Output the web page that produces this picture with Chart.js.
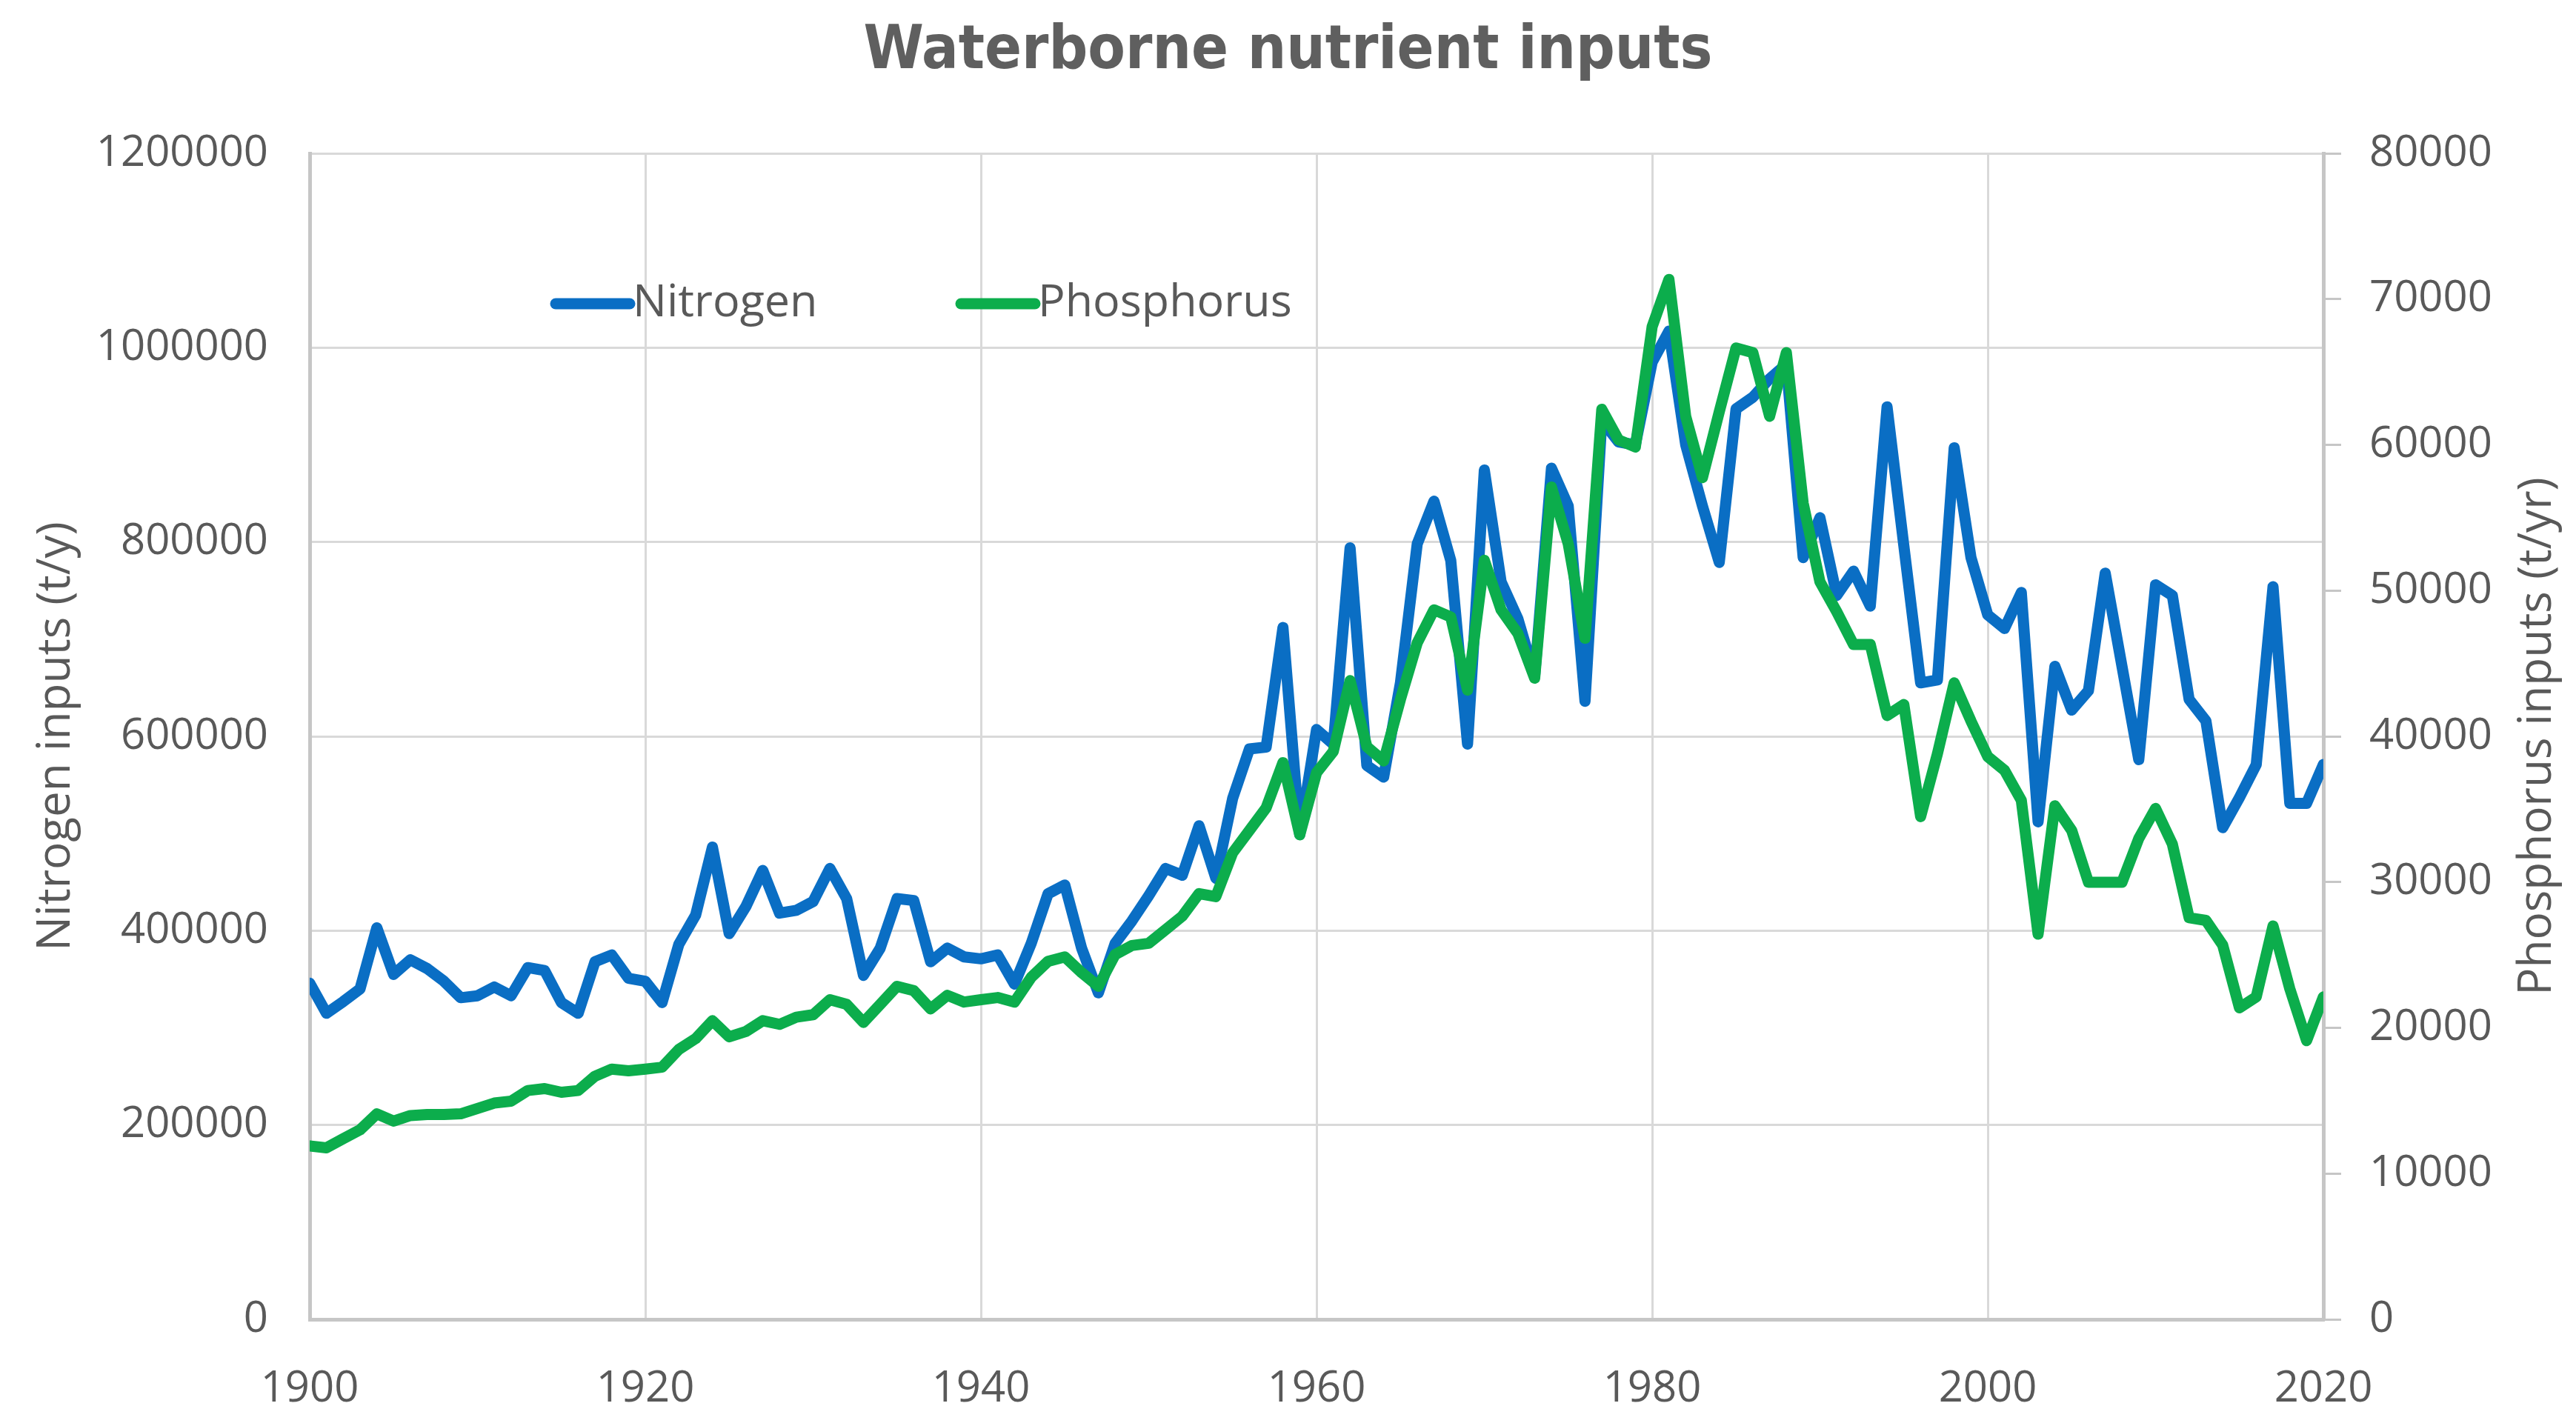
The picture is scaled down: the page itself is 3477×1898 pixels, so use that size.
<!DOCTYPE html>
<html>
<head>
<meta charset="utf-8">
<title>Waterborne nutrient inputs</title>
<script src="https://cdn.jsdelivr.net/npm/chart.js@4.4.1/dist/chart.umd.min.js"></script>
<style>
  html, body { margin: 0; padding: 0; background: #ffffff; }
  #wrap { width: 3477px; height: 1898px; position: relative; }
</style>
</head>
<body>
<div id="wrap"><canvas id="nutrientChart"></canvas></div>
<script>
// years on the x axis
const years = [
  1900, 1901, 1902, 1903, 1904, 1905, 1906, 1907, 1908, 1909,
  1910, 1911, 1912, 1913, 1914, 1915, 1916, 1917, 1918, 1919,
  1920, 1921, 1922, 1923, 1924, 1925, 1926, 1927, 1928, 1929,
  1930, 1931, 1932, 1933, 1934, 1935, 1936, 1937, 1938, 1939,
  1940, 1941, 1942, 1943, 1944, 1945, 1946, 1947, 1948, 1949,
  1950, 1951, 1952, 1953, 1954, 1955, 1956, 1957, 1958, 1959,
  1960, 1961, 1962, 1963, 1964, 1965, 1966, 1967, 1968, 1969,
  1970, 1971, 1972, 1973, 1974, 1975, 1976, 1977, 1978, 1979,
  1980, 1981, 1982, 1983, 1984, 1985, 1986, 1987, 1988, 1989,
  1990, 1991, 1992, 1993, 1994, 1995, 1996, 1997, 1998, 1999,
  2000, 2001, 2002, 2003, 2004, 2005, 2006, 2007, 2008, 2009,
  2010, 2011, 2012, 2013, 2014, 2015, 2016, 2017, 2018, 2019,
  2020
];

// nitrogen inputs, t/y (left axis)
const nitrogen = [
  346000, 315000, 327000, 340000, 403000, 355000, 370000, 361000, 348000, 331000,
  333000, 342000, 333000, 362000, 359000, 326000, 315000, 368000, 375000, 351000,
  348000, 326000, 386000, 416000, 486000, 397000, 425000, 462000, 418000, 421000,
  430000, 464000, 433000, 354000, 382000, 433000, 431000, 368000, 382000, 373000,
  371000, 375000, 345000, 387000, 438000, 447000, 382000, 336000, 387000, 410000,
  436000, 464000, 457000, 508000, 454000, 536000, 587000, 589000, 712000, 499000,
  607000, 592000, 794000, 570000, 558000, 655000, 798000, 842000, 781000, 592000,
  874000, 759000, 721000, 662000, 876000, 837000, 636000, 925000, 903000, 900000,
  985000, 1017000, 900000, 837000, 779000, 937000, 949000, 968000, 983000, 784000,
  825000, 745000, 770000, 734000, 939000, 796000, 655000, 658000, 897000, 784000,
  725000, 711000, 748000, 512000, 672000, 627000, 647000, 768000, 672000, 576000,
  756000, 745000, 638000, 616000, 506000, 537000, 571000, 754000, 531000, 531000,
  571000
];

// phosphorus inputs, t/yr (right axis)
const phosphorus = [
  11900, 11770, 12390, 13000, 14100, 13600, 13980, 14050, 14050, 14100,
  14470, 14840, 14970, 15700, 15830, 15580, 15700, 16680, 17170, 17050,
  17170, 17300, 18520, 19260, 20490, 19380, 19750, 20490, 20240, 20730,
  20900, 21930, 21610, 20370, 21610, 22850, 22550, 21300, 22230, 21770,
  21930, 22080, 21770, 23470, 24560, 24870, 23790, 22850, 25030, 25650,
  25800, 26730, 27660, 29210, 29000, 32000, 33550, 35100, 38200, 33240,
  37500, 38970, 43820, 39290, 38310, 42530, 46410, 48680, 48190, 43170,
  52080, 48680, 47060, 43990, 57100, 53210, 46730, 62440, 60340, 59850,
  68110, 71350, 61960, 57750, 62270, 66650, 66330, 61960, 66330, 56000,
  50600, 48550, 46300, 46300, 41430, 42180, 34490, 38800, 43670, 41050,
  38610, 37670, 35610, 26430, 35240, 33550, 29990, 29990, 29990, 32990,
  35050, 32610, 27550, 27370, 25680, 21370, 22120, 26990, 22680, 19120,
  22120
];

const leftTitle = 'Nitrogen inputs (t/y)';
const rightTitle = 'Phosphorus inputs (t/yr)';

const textGrey = '#595959';
const gridGrey = '#D9D9D9';
const axisGrey = '#C6C6C6';
const tickFont = { family: 'Open Sans', size: 58 };

// legend sits inside the plot, and the right axis title reads bottom-up
const overlayPlugin = {
  id: 'overlay',
  afterDatasetsDraw(chart) {
    const { ctx, chartArea } = chart;
    const spots = [332, 879];
    const y = chartArea.top + 203;
    ctx.save();
    ctx.font = '61px "Open Sans"';
    ctx.textBaseline = 'middle';
    ctx.textAlign = 'left';
    chart.data.datasets.forEach((ds, i) => {
      const x0 = chartArea.left + spots[i];
      ctx.strokeStyle = ds.borderColor;
      ctx.lineWidth = 15;
      ctx.lineCap = 'round';
      ctx.beginPath();
      ctx.moveTo(x0, y);
      ctx.lineTo(x0 + 100, y);
      ctx.stroke();
      ctx.fillStyle = textGrey;
      ctx.fillText(ds.label, x0 + 104, y);
    });
    ctx.restore();
  },
  afterDraw(chart) {
    const { ctx, chartArea } = chart;
    ctx.save();
    ctx.translate(3425, (chartArea.top + chartArea.bottom) / 2);
    ctx.rotate(-Math.PI / 2);
    ctx.font = '62px "Open Sans"';
    ctx.fillStyle = textGrey;
    ctx.textAlign = 'center';
    ctx.textBaseline = 'middle';
    ctx.fillText(rightTitle, 0, 0);
    ctx.restore();
  }
};

const ctx = document.getElementById('nutrientChart').getContext('2d');

new Chart(ctx, {
  type: 'line',
  data: {
    labels: years,
    datasets: [
      {
        label: 'Nitrogen',
        data: nitrogen,
        yAxisID: 'y',
        borderColor: '#0A6EC4',
        backgroundColor: '#0A6EC4',
        borderWidth: 15,
        borderJoinStyle: 'round',
        borderCapStyle: 'round',
        pointRadius: 0,
        tension: 0,
        order: 1
      },
      {
        label: 'Phosphorus',
        data: phosphorus,
        yAxisID: 'y1',
        borderColor: '#0CAD4C',
        backgroundColor: '#0CAD4C',
        borderWidth: 15,
        borderJoinStyle: 'round',
        borderCapStyle: 'round',
        pointRadius: 0,
        tension: 0,
        order: 0
      }
    ]
  },
  options: {
    responsive: true,
    maintainAspectRatio: false,
    devicePixelRatio: 1,
    animation: false,
    layout: { padding: { top: 22, left: 0, right: 0, bottom: 0 } },
    plugins: {
      legend: { display: false },
      tooltip: { enabled: false },
      title: {
        display: true,
        text: 'Waterborne nutrient inputs',
        color: '#5F5F5F',
        font: { family: 'DejaVu Sans Condensed', size: 82, weight: 'bold', lineHeight: 1.2 },
        padding: { top: 0, bottom: 86.6 }
      }
    },
    scales: {
      x: {
        type: 'linear',
        min: 1900,
        max: 2020,
        afterFit: (scale) => { scale.height = 117; },
        ticks: {
          stepSize: 20,
          padding: 60,
          maxRotation: 0,
          color: textGrey,
          font: tickFont,
          callback: (v) => String(v)
        },
        grid: { color: gridGrey, lineWidth: 3, drawTicks: false },
        border: { color: axisGrey, width: 5 }
      },
      y: {
        position: 'left',
        min: 0,
        max: 1200000,
        afterFit: (scale) => { scale.width = 418; },
        ticks: {
          stepSize: 200000,
          padding: 56,
          color: textGrey,
          font: tickFont,
          callback: (v) => String(v)
        },
        grid: { color: gridGrey, lineWidth: 3, drawTicks: false },
        border: { color: axisGrey, width: 5 },
        title: {
          display: true,
          text: leftTitle,
          color: textGrey,
          font: { family: 'Open Sans', size: 62 },
          padding: { top: 39, bottom: 0 }
        }
      },
      y1: {
        position: 'right',
        min: 0,
        max: 80000,
        afterFit: (scale) => { scale.width = 341; },
        ticks: {
          stepSize: 10000,
          padding: 38,
          color: textGrey,
          font: tickFont,
          callback: (v) => String(v)
        },
        grid: { drawOnChartArea: false, color: axisGrey, lineWidth: 3, tickLength: 24 },
        border: { color: axisGrey, width: 5 }
      }
    }
  },
  plugins: [overlayPlugin]
});
</script>
</body>
</html>
